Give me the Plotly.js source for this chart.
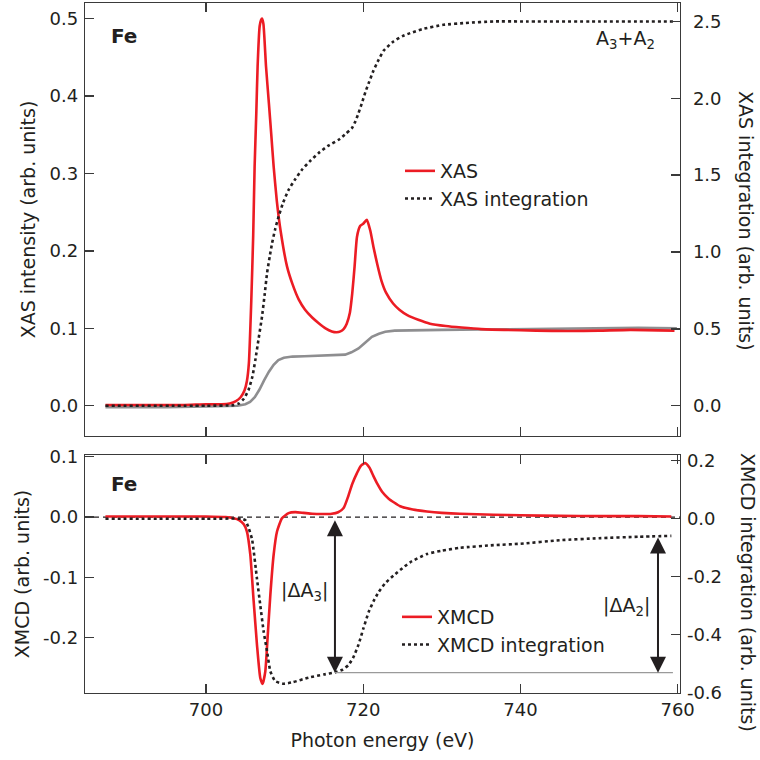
<!DOCTYPE html>
<html><head><meta charset="utf-8">
<script src="https://cdn.plot.ly/plotly-3.0.1.min.js"></script>
<style>html,body{margin:0;padding:0;background:#fff}</style>
</head><body>
<div id="chart" style="width:760px;height:760px"></div>
<script>
// ---- Top panel: XAS ----
const xasEnergy = [687.2, 692, 697, 700, 702, 703, 703.8, 704.4, 704.9, 705.2, 705.45, 705.76, 706.0, 706.18, 706.4, 706.56, 706.82, 707.0, 707.12, 707.3, 707.63, 708.0, 708.3, 708.6, 709.0, 709.5, 710.3, 711.0, 711.8, 712.6, 713.5, 714.3, 715.2, 716.0, 716.6, 717.1, 717.5, 717.9, 718.3, 718.6, 718.9, 719.2, 719.6, 720.0, 720.45, 720.9, 721.3, 721.8, 722.3, 722.9, 723.8, 724.6, 725.6, 727, 728.5, 730.5, 732.5, 735, 738, 742, 746, 750, 754, 759.6];
const xasIntensity = [0.001, 0.001, 0.001, 0.002, 0.002, 0.003, 0.006, 0.011, 0.02, 0.032, 0.055, 0.137, 0.22, 0.309, 0.38, 0.438, 0.49, 0.498, 0.5, 0.493, 0.438, 0.39, 0.35, 0.309, 0.265, 0.225, 0.18, 0.157, 0.137, 0.124, 0.114, 0.107, 0.100, 0.096, 0.095, 0.096, 0.099, 0.106, 0.12, 0.145, 0.18, 0.218, 0.232, 0.235, 0.240, 0.226, 0.205, 0.182, 0.162, 0.146, 0.132, 0.124, 0.117, 0.111, 0.106, 0.103, 0.101, 0.099, 0.098, 0.097, 0.0965, 0.097, 0.098, 0.097];

const stepEnergy = [687.2, 695, 700, 704, 705, 705.6, 706.2, 706.8, 707.4, 708.0, 708.6, 709.2, 709.9, 711, 712.5, 714.5, 716.5, 717.7, 718.5, 719.4, 720.2, 721.1, 722.0, 722.8, 724, 726, 730, 735, 740, 745, 750, 755, 759.9];
const stepIntensity = [-0.002, -0.002, -0.001, 0, 0.002, 0.005, 0.011, 0.021, 0.033, 0.044, 0.053, 0.059, 0.062, 0.0635, 0.064, 0.0645, 0.065, 0.066, 0.069, 0.074, 0.081, 0.089, 0.093, 0.0955, 0.097, 0.0975, 0.098, 0.0985, 0.099, 0.1, 0.1, 0.1005, 0.1];

const xasIntEnergy = [687.2, 700, 703.5, 704.2, 704.8, 705.4, 705.9, 706.27, 706.7, 707.12, 707.45, 707.76, 708.1, 708.4, 708.8, 709.23, 709.8, 710.5, 711.3, 712.2, 713.2, 714.3, 715.5, 716.86, 717.8, 718.56, 719.0, 719.4, 719.9, 720.3, 720.7, 721.3, 721.95, 722.6, 723.85, 725, 725.97, 727.5, 730.2, 733, 736.6, 740, 750, 759.6];
const xasIntegration = [0, 0, 0.003, 0.015, 0.045, 0.102, 0.19, 0.297, 0.44, 0.579, 0.72, 0.862, 0.97, 1.057, 1.15, 1.23, 1.32, 1.404, 1.47, 1.535, 1.59, 1.643, 1.69, 1.73, 1.77, 1.806, 1.85, 1.904, 1.98, 2.045, 2.099, 2.18, 2.25, 2.31, 2.37, 2.405, 2.424, 2.45, 2.478, 2.49, 2.5, 2.5, 2.5, 2.5];

// ---- Bottom panel: XMCD ----
const xmcdEnergy = [687.2, 695, 700, 702.5, 703.5, 704.2, 704.8, 705.2, 705.63, 706.06, 706.48, 706.9, 707.2, 707.54, 707.83, 708.18, 708.6, 709.03, 709.66, 710.5, 711.35, 712.4, 713.5, 714.8, 716.0, 716.8, 717.5, 718.1, 718.6, 719.2, 719.7, 720.25, 720.8, 721.3, 721.8, 722.4, 723.2, 724.7, 726.3, 728.1, 730, 732.3, 736.6, 740, 745, 750, 755, 759.2];
const xmcdSignal = [0.001, 0.001, 0.001, 0.0, -0.002, -0.005, -0.012, -0.024, -0.0625, -0.14, -0.212, -0.267, -0.277, -0.256, -0.2, -0.129, -0.0625, -0.024, -0.002, 0.0066, 0.0083, 0.007, 0.0055, 0.005, 0.0055, 0.008, 0.015, 0.035, 0.055, 0.073, 0.085, 0.0896, 0.082, 0.068, 0.055, 0.042, 0.031, 0.018, 0.0125, 0.0093, 0.007, 0.0055, 0.0038, 0.003, 0.002, 0.0015, 0.0015, 0.001];

const xmcdIntEnergy = [687.2, 700, 704.5, 705.0, 705.4, 705.85, 706.48, 706.9, 707.33, 707.76, 708.18, 708.8, 709.87, 711, 713.05, 715, 716.4, 717.4, 718.1, 718.7, 719.4, 720.0, 720.7, 721.3, 721.95, 722.8, 723.85, 725, 725.97, 728.1, 730, 732.3, 736.6, 740, 745, 750, 755, 759.2];
const xmcdIntegration = [0, 0, 0, -0.005, -0.03, -0.07, -0.207, -0.298, -0.389, -0.457, -0.526, -0.56, -0.569, -0.564, -0.548, -0.537, -0.53, -0.52, -0.505, -0.48, -0.434, -0.38, -0.321, -0.285, -0.253, -0.222, -0.196, -0.17, -0.15, -0.1215, -0.11, -0.1, -0.091, -0.086, -0.074, -0.067, -0.062, -0.059];

// arrows / levels
const dA3Energy = 716.4;
const dA2Energy = 757.5;
const dA2Top = -0.059;
const baseLevel = -0.531;
const baseLineEnergy = [716.4, 759.4];

// ticks
const energyTicks = [700, 720, 740, 760];
const energyTickText = ['700', '720', '740', '760'];
const xasTicks = [0, 0.1, 0.2, 0.3, 0.4, 0.5];
const xasTickText = ['0.0', '0.1', '0.2', '0.3', '0.4', '0.5'];
const xasIntTicks = [0, 0.5, 1.0, 1.5, 2.0, 2.5];
const xasIntTickText = ['0.0', '0.5', '1.0', '1.5', '2.0', '2.5'];
const xmcdTicks = [-0.2, -0.1, 0, 0.1];
const xmcdTickText = ['-0.2', '-0.1', '0.0', '0.1'];
const xmcdIntTicks = [-0.6, -0.4, -0.2, 0, 0.2];
const xmcdIntTickText = ['-0.6', '-0.4', '-0.2', '0.0', '0.2'];

const RED = '#ec1c24', DOT = '#231f20', GRAY = '#8e8e90', AX = '#3a3a3a', TXT = '#231f20';
const FONT = 'DejaVu Sans';

const traces = [
  {x: stepEnergy, y: stepIntensity, xaxis: 'x', yaxis: 'y', mode: 'lines', showlegend: false,
   line: {color: GRAY, width: 2.6}, hoverinfo: 'skip'},
  {x: xasEnergy, y: xasIntensity, xaxis: 'x', yaxis: 'y', mode: 'lines', name: 'XAS', legend: 'legend',
   line: {color: RED, width: 2.6, shape: 'spline', smoothing: 0.5}},
  {x: xasIntEnergy, y: xasIntegration, xaxis: 'x', yaxis: 'y2', mode: 'lines', name: 'XAS integration', legend: 'legend',
   line: {color: DOT, width: 2.6, dash: 'dot', shape: 'spline', smoothing: 0.5}},
  {x: xmcdEnergy, y: xmcdSignal, xaxis: 'x2', yaxis: 'y3', mode: 'lines', name: 'XMCD', legend: 'legend2',
   line: {color: RED, width: 2.6, shape: 'spline', smoothing: 0.5}},
  {x: xmcdIntEnergy, y: xmcdIntegration, xaxis: 'x2', yaxis: 'y4', mode: 'lines', name: 'XMCD integration', legend: 'legend2',
   line: {color: DOT, width: 2.6, dash: 'dot', shape: 'spline', smoothing: 0.5}},
  {x: baseLineEnergy, y: [baseLevel, baseLevel], xaxis: 'x2', yaxis: 'y4', mode: 'lines', showlegend: false,
   line: {color: '#9a9a9a', width: 1.2}, hoverinfo: 'skip'}
];

const xRange = [684.6, 760.3];
function axisBase() {
  return {ticks: 'inside', ticklen: 9, tickwidth: 1.3, tickcolor: AX, showline: true, linecolor: AX, linewidth: 1.3,
          showgrid: false, zeroline: false, tickfont: {family: FONT, size: 18, color: TXT}, tickmode: 'array'};
}
function label(x, y, text, size, extra) {
  return Object.assign({xref: 'paper', yref: 'paper', x: (x - 85) / 595, y: (693 - y) / 690, text: text,
    showarrow: false, xanchor: 'center', yanchor: 'middle', font: {family: FONT, size: size, color: TXT}}, extra || {});
}

const layout = {
  width: 760, height: 760,
  margin: {l: 85, r: 80, t: 3, b: 67},
  paper_bgcolor: '#fff', plot_bgcolor: '#fff',
  font: {family: FONT, size: 19, color: TXT},
  xaxis: Object.assign(axisBase(), {domain: [0, 1], anchor: 'y', range: xRange, tickvals: energyTicks,
    ticktext: energyTickText, showticklabels: false, mirror: 'ticks'}),
  yaxis: Object.assign(axisBase(), {domain: [0.3725, 1], anchor: 'x', range: [-0.039, 0.52], tickvals: xasTicks,
    ticktext: xasTickText, ticklabelstandoff: 2,
    title: {text: 'XAS intensity (arb. units)', font: {family: FONT, size: 19, color: TXT}, standoff: 8}}),
  yaxis2: Object.assign(axisBase(), {overlaying: 'y', side: 'right', anchor: 'x', range: [-0.197, 2.62],
    tickvals: xasIntTicks, ticktext: xasIntTickText, ticklabelstandoff: 8}),
  xaxis2: Object.assign(axisBase(), {domain: [0, 1], anchor: 'y3', range: xRange, tickvals: energyTicks,
    ticktext: energyTickText, mirror: 'ticks',
    title: {text: 'Photon energy (eV)', font: {family: FONT, size: 19, color: TXT}, standoff: 14}}),
  yaxis3: Object.assign(axisBase(), {domain: [0, 0.3449], anchor: 'x2', range: [-0.292, 0.103], tickvals: xmcdTicks,
    ticktext: xmcdTickText, ticklabelstandoff: 2,
    title: {text: 'XMCD (arb. units)', font: {family: FONT, size: 19, color: TXT}, standoff: 8}}),
  yaxis4: Object.assign(axisBase(), {overlaying: 'y3', side: 'right', anchor: 'x2', range: [-0.601, 0.22],
    tickvals: xmcdIntTicks, ticktext: xmcdIntTickText, ticklabelstandoff: 2}),
  legend: {x: (400 - 85) / 595, y: (693 - 152) / 690, xanchor: 'left', yanchor: 'top', bgcolor: 'rgba(0,0,0,0)',
    font: {family: FONT, size: 19, color: TXT}, tracegroupgap: 0},
  legend2: {x: (397 - 85) / 595, y: (693 - 598) / 690, xanchor: 'left', yanchor: 'top', bgcolor: 'rgba(0,0,0,0)',
    font: {family: FONT, size: 19, color: TXT}, tracegroupgap: 0},
  shapes: [
    {type: 'line', xref: 'x2 domain', yref: 'y3', x0: 0, x1: 1, y0: 0, y1: 0,
     line: {color: DOT, width: 1.1, dash: '5px,4px'}, layer: 'below'}
  ],
  annotations: [
    label(124, 36, '<b>Fe</b>', 20),
    label(124, 484, '<b>Fe</b>', 20),
    label(625, 40, 'A<sub>3</sub>+A<sub>2</sub>', 19),
    label(304, 591, '|ΔA<sub>3</sub>|', 19),
    label(626, 606, '|ΔA<sub>2</sub>|', 19),
    label(746, 221, 'XAS integration (arb. units)', 19, {textangle: 90}),
    label(748, 592, 'XMCD integration (arb. units)', 19, {textangle: 90}),
    {xref: 'x2', yref: 'y4', axref: 'x2', ayref: 'y4', x: dA3Energy, y: baseLevel, ax: dA3Energy, ay: 0,
     text: '', showarrow: true, arrowhead: 2, startarrowhead: 2, arrowside: 'end+start', arrowsize: 1.6,
     arrowwidth: 2, arrowcolor: DOT, standoff: 0, startstandoff: 0},
    {xref: 'x2', yref: 'y4', axref: 'x2', ayref: 'y4', x: dA2Energy, y: baseLevel, ax: dA2Energy, ay: dA2Top,
     text: '', showarrow: true, arrowhead: 2, startarrowhead: 2, arrowside: 'end+start', arrowsize: 1.6,
     arrowwidth: 2, arrowcolor: DOT, standoff: 0, startstandoff: 0}
  ]
};

Plotly.newPlot('chart', traces, layout, {displayModeBar: false, staticPlot: true});
</script>
</body></html>
